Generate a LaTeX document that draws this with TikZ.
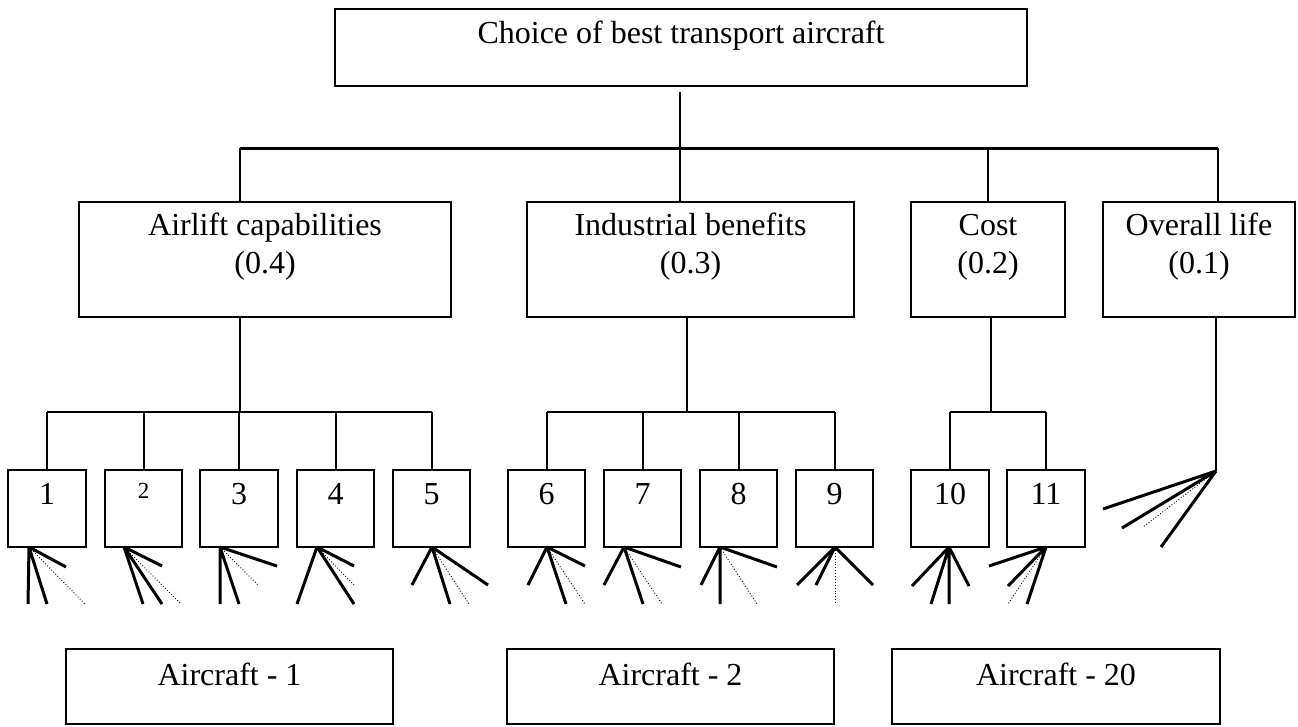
\documentclass[tikz,border=0pt]{standalone}
\usepackage{fontspec}
\setmainfont{Liberation Serif}
\usetikzlibrary{calc}
\newcommand\mybox[5]{\node[box, minimum width={#4-#2}, minimum height={#5-#3}] (#1) at (#2,#3) {};}
\begin{document}
\begin{tikzpicture}[x=1pt,y=-1pt,
  box/.style={draw, line width=2pt, inner sep=0pt, outer sep=0pt, anchor=north west},
  txt/.style={font=\fontsize{32}{39}\selectfont, inner sep=0pt, anchor=base},
  smalltxt/.style={font=\fontsize{23}{27}\selectfont, inner sep=0pt, anchor=base},
  conn/.style={line width=2pt},
  bus/.style={line width=3pt},
  fan/.style={line width=3pt},
  fandot/.style={line width=0.9pt, dotted}]
\useasboundingbox (0,0) rectangle (1298,726);
% boxes
\mybox{top}{335}{9}{1027}{86}
\mybox{air}{79}{202}{451}{317}
\mybox{ind}{527}{202}{854}{317}
\mybox{cost}{911}{202}{1065}{317}
\mybox{life}{1103}{202}{1295}{317}
\mybox{b1}{8}{470}{86}{547}
\mybox{b2}{105}{470}{182}{547}
\mybox{b3}{200}{470}{278}{547}
\mybox{b4}{297}{470}{374}{547}
\mybox{b5}{393}{470}{470}{547}
\mybox{b6}{508}{470}{585}{547}
\mybox{b7}{604}{470}{681}{547}
\mybox{b8}{700}{470}{777}{547}
\mybox{b9}{796}{470}{873}{547}
\mybox{b10}{911}{470}{989}{547}
\mybox{b11}{1007}{470}{1085}{547}
\mybox{ac1}{66}{649}{393}{724}
\mybox{ac2}{507}{649}{834}{724}
\mybox{ac3}{892}{649}{1220}{724}
% texts
\node[txt] (topT) at (681,43) {Choice of best transport aircraft};
\node[txt] (airT) at (265,235) {Airlift capabilities};
\node[txt] (airW) at (265,273) {(0.4)};
\node[txt] (indT) at (690.5,235) {Industrial benefits};
\node[txt] (indW) at (690.5,273) {(0.3)};
\node[txt] (costT) at (988,235) {Cost};
\node[txt] (costW) at (988,273) {(0.2)};
\node[txt] (lifeT) at (1199,235) {Overall life};
\node[txt] (lifeW) at (1199,273) {(0.1)};
\node[txt] (n1) at (47,504) {1};
\node[smalltxt] (n2) at (143.5,498) {2};
\node[txt] (n3) at (239,504) {3};
\node[txt] (n4) at (335.5,504) {4};
\node[txt] (n5) at (431.5,504) {5};
\node[txt] (n6) at (546.5,504) {6};
\node[txt] (n7) at (642.5,504) {7};
\node[txt] (n8) at (738.5,504) {8};
\node[txt] (n9) at (834.5,504) {9};
\node[txt] (n10) at (950,504) {10};
\node[txt] (n11) at (1046,504) {11};
\node[txt] (acT1) at (229.5,685) {Aircraft - 1};
\node[txt] (acT2) at (670.5,685) {Aircraft - 2};
\node[txt] (acT3) at (1056,685) {Aircraft - 20};
% top level connectors
\coordinate (jA) at (240,148);
\coordinate (jB) at (680,148);
\coordinate (jC) at (988,148);
\coordinate (jD) at (1218,148);
\draw[conn] ($(jB |- top.south)+(0,6)$) -- (jB);
\draw[bus] (jA) -- (jD);
\draw[conn] (jA) -- (jA |- air.north);
\draw[conn] (jB) -- (jB |- ind.north);
\draw[conn] (jC) -- (jC |- cost.north);
\draw[conn] (jD) -- (jD |- life.north);
% second level connectors
\coordinate (h1) at (240,412);
\coordinate (h2) at (687,412);
\coordinate (h3) at (991,412);
\draw[conn] (h1 |- air.south) -- (h1);
\draw[conn] (b1.north |- h1) -- (b5.north |- h1);
\foreach \b in {b1,b2,b3,b4,b5}{\draw[conn] (\b.north |- h1) -- (\b.north);}
\draw[conn] (h2 |- ind.south) -- (h2);
\draw[conn] (b6.north |- h2) -- (b9.north |- h2);
\foreach \b in {b6,b7,b8,b9}{\draw[conn] (\b.north |- h2) -- (\b.north);}
\draw[conn] (h3 |- cost.south) -- (h3);
\draw[conn] (b10.north |- h3) -- (b11.north |- h3);
\foreach \b in {b10,b11}{\draw[conn] (\b.north |- h3) -- (\b.north);}
\coordinate (a12) at (1216,471);
\draw[conn] (a12 |- life.south) -- (a12);
% fan apexes
\coordinate (a1) at ($(b1.south west)+(21,0)$);
\coordinate (a2) at ($(b2.south west)+(19,0)$);
\coordinate (a3) at ($(b3.south west)+(20,0)$);
\coordinate (a4) at ($(b4.south west)+(20,0)$);
\coordinate (a5) at ($(b5.south west)+(39,0)$);
\coordinate (a6) at ($(b6.south west)+(39,0)$);
\coordinate (a7) at ($(b7.south west)+(20,0)$);
\coordinate (a8) at ($(b8.south west)+(20,0)$);
\coordinate (a9) at ($(b9.south west)+(39,0)$);
\coordinate (a10) at ($(b10.south west)+(38,0)$);
\coordinate (a11) at ($(b11.south west)+(39,0)$);
% fans
\draw[fan] (a1) -- (28,604) (a1) -- (47,604) (a1) -- (66,567);
\draw[fandot] (a1) -- (85,604);
\draw[fan] (a2) -- (143,604) (a2) -- (162,604) (a2) -- (162,566);
\draw[fandot] (a2) -- (181,604);
\draw[fan] (a3) -- (220,604) (a3) -- (239,604) (a3) -- (277,566);
\draw[fandot] (a3) -- (258,585);
\draw[fan] (a4) -- (297,604) (a4) -- (354,566) (a4) -- (354,604);
\draw[fandot] (a4) -- (354,585);
\draw[fan] (a5) -- (412,585) (a5) -- (450,604) (a5) -- (488,585);
\draw[fandot] (a5) -- (469,604);
\draw[fan] (a6) -- (528,585) (a6) -- (566,604) (a6) -- (585,566);
\draw[fandot] (a6) -- (585,604);
\draw[fan] (a7) -- (604,585) (a7) -- (643,604) (a7) -- (681,567);
\draw[fandot] (a7) -- (662,604);
\draw[fan] (a8) -- (701,585) (a8) -- (720,604) (a8) -- (777,567);
\draw[fandot] (a8) -- (757,604);
\draw[fan] (a9) -- (797,585) (a9) -- (816,585) (a9) -- (873,585);
\draw[fandot] (a9) -- (835,604);
\draw[fan] (a10) -- (912,586) (a10) -- (931,604) (a10) -- (949,604) (a10) -- (969,586);
\draw[fan] (a11) -- (989,566) (a11) -- (1008,586) (a11) -- (1027,604);
\draw[fandot] (a11) -- (1008,604);
\draw[fan] (a12) -- (1103,509) (a12) -- (1122,528) (a12) -- (1161,547);
\draw[fandot] (a12) -- (1143,527);
\end{tikzpicture}
\end{document}
